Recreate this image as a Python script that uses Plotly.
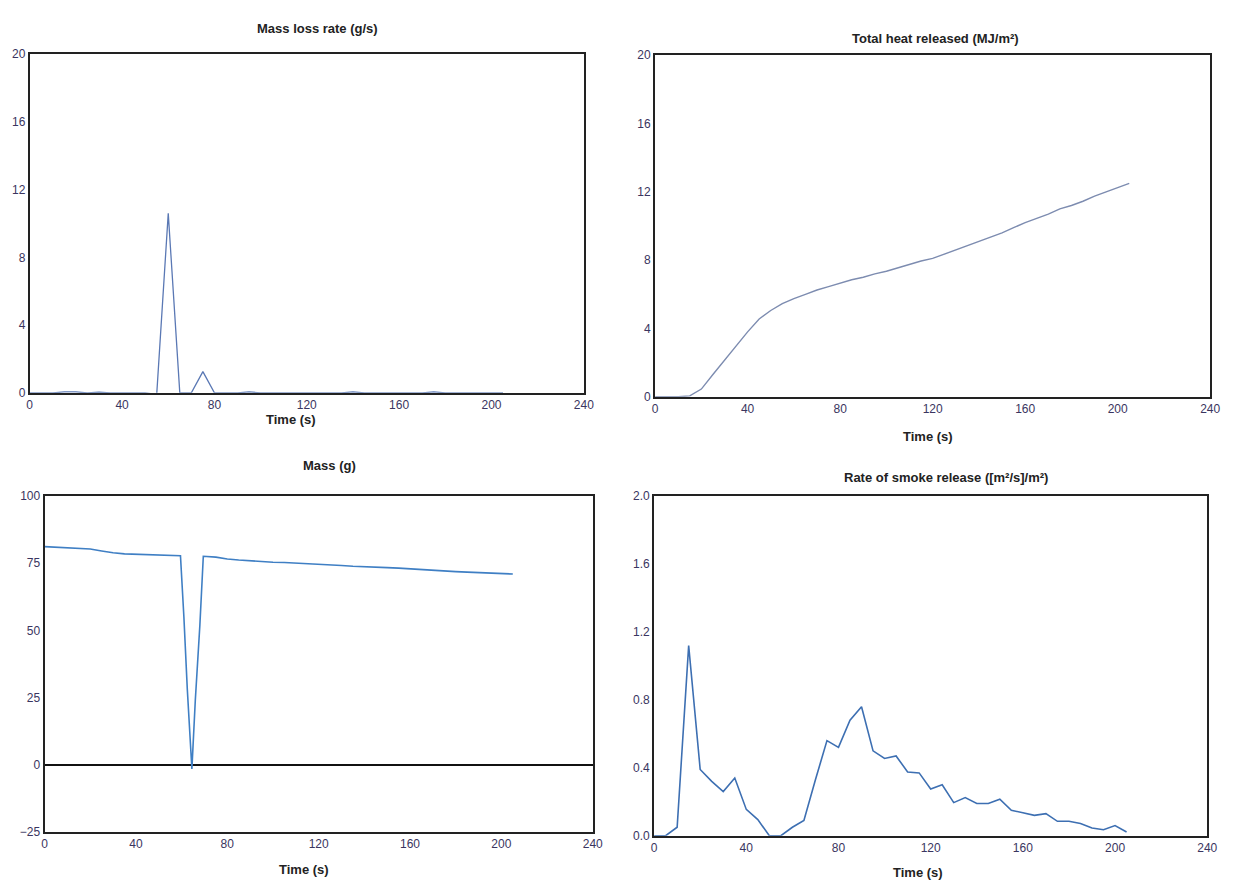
import plotly.graph_objects as go

# ---------------- data ----------------
mlr_time = [0, 5, 10, 15, 20, 25, 30, 35, 40, 45, 50, 55, 60, 65, 70, 75, 80, 85, 90, 95,
            100, 105, 110, 115, 120, 125, 130, 135, 140, 145, 150, 155, 160, 165, 170, 175,
            180, 185, 190, 195, 200, 205]
mlr_vals = [0, 0, 0, 0.05, 0.05, 0, 0.04, 0, 0, 0, 0, -0.1, 10.6, 0, 0, 1.25, 0, 0, 0, 0.05,
            0, 0, 0, 0, 0, 0, 0, 0, 0.05, 0, 0, 0, 0, 0, 0, 0.05,
            0, 0, 0, 0, 0, 0]

thr_time = [0, 5, 10, 15, 20, 25, 30, 35, 40, 45, 50, 55, 60, 65, 70, 75, 80, 85, 90, 95,
            100, 105, 110, 115, 120, 125, 130, 135, 140, 145, 150, 155, 160, 165, 170, 175,
            180, 185, 190, 195, 200, 205]
thr_vals = [0, 0, 0, 0.05, 0.45, 1.3, 2.15, 3.0, 3.8, 4.55, 5.05, 5.45, 5.75, 6.0, 6.25, 6.45,
            6.65, 6.85, 7.0, 7.2, 7.35, 7.55, 7.75, 7.95, 8.1, 8.35, 8.6, 8.85, 9.1, 9.35,
            9.6, 9.9, 10.2, 10.45, 10.7, 11.0, 11.2, 11.45, 11.75, 12.0, 12.25, 12.5]

mass_time = [0, 5, 10, 15, 20, 25, 30, 35, 40, 45, 50, 55, 59.5, 61, 62.5, 64.5, 66, 68, 69.5,
             75, 80, 85, 90, 95, 100, 105, 110, 115, 120, 125, 130, 135, 140, 145, 150, 155,
             160, 165, 170, 175, 180, 185, 190, 195, 200, 205]
mass_vals = [81.2, 81.0, 80.9, 80.6, 80.3, 79.6, 78.9, 78.5, 78.3, 78.2, 78.1, 77.9, 77.8,
             55, 28, -1.6, 24, 52, 77.6,
             77.3, 76.6, 76.2, 75.9, 75.6, 75.4, 75.3, 75.1, 74.9, 74.8, 74.6, 74.2, 73.9,
             73.8, 73.6, 73.4, 73.2, 72.9, 72.6, 72.4, 72.2, 71.9, 71.7, 71.5, 71.3, 71.2, 71.0]

rsr_time = [0, 5, 10, 15, 20, 25, 30, 35, 40, 45, 50, 55, 60, 65, 70, 75, 80, 85, 90, 95,
            100, 105, 110, 115, 120, 125, 130, 135, 140, 145, 150, 155, 160, 165, 170, 175,
            180, 185, 190, 195, 200, 205]
rsr_vals = [0, 0, 0.05, 1.12, 0.39, 0.32, 0.26, 0.34, 0.155, 0.095, 0.0, 0.0, 0.05, 0.09,
            0.33, 0.56, 0.52, 0.68, 0.76, 0.5, 0.455, 0.47, 0.375, 0.37, 0.275, 0.30, 0.195,
            0.225, 0.19, 0.19, 0.215, 0.15, 0.135, 0.12, 0.13, 0.085, 0.085, 0.072, 0.045,
            0.035, 0.06, 0.022]

titles = ["Mass loss rate (g/s)", "Total heat released (MJ/m²)", "Mass (g)",
          "Rate of smoke release ([m²/s]/m²)"]
x_ticks = [0, 40, 80, 120, 160, 200, 240]
y_ticks_mlr = [0, 4, 8, 12, 16, 20]
y_ticks_thr = [0, 4, 8, 12, 16, 20]
y_ticks_mass = [-25, 0, 25, 50, 75, 100]
y_ticks_rsr = [0.0, 0.4, 0.8, 1.2, 1.6, 2.0]
y_tick_text_rsr = ["0.0", "0.4", "0.8", "1.2", "1.6", "2.0"]

# ---------------- layout geometry (page pixels) ----------------
W, H = 1240, 888
panels = [
    dict(l=27, r=587, t=48, b=392, title_xy=(318, 22), xt_xy=(291, 419)),
    dict(l=659, r=1220, t=49, b=396, title_xy=(942, 32), xt_xy=(935, 436)),
    dict(l=42, r=596, t=497, b=838, title_xy=(330, 466), xt_xy=(304, 876)),
    dict(l=658, r=1217, t=497, b=842, title_xy=(953, 478), xt_xy=(925, 879)),
]


def fx(px):
    return px / W


def fy(py):
    return 1 - py / H


fig = go.Figure()
series = [
    (mlr_time, mlr_vals, "#5a78b4", 1.3),
    (thr_time, thr_vals, "#7d8cb0", 1.4),
    (mass_time, mass_vals, "#3f7fc4", 1.6),
    (rsr_time, rsr_vals, "#3d6fb2", 1.6),
]
for i, (xs, ys, col, w) in enumerate(series):
    n = "" if i == 0 else str(i + 1)
    fig.add_trace(go.Scatter(x=xs, y=ys, mode="lines", line=dict(color=col, width=w),
                             xaxis="x" + n, yaxis="y" + n, showlegend=False))

tick_font = dict(family="Liberation Sans, Arial, sans-serif", size=12, color="#3a3560")
yranges = [[0, 20], [0, 20], [-25, 100], [0, 2.0]]
yticks = [y_ticks_mlr, y_ticks_thr, y_ticks_mass, y_ticks_rsr]
ytext = [None, None, None, y_tick_text_rsr]

layout = dict(width=W, height=H, margin=dict(l=0, r=0, t=0, b=0),
              paper_bgcolor="white", plot_bgcolor="white", showlegend=False)
annotations = []
for i, p in enumerate(panels):
    n = "" if i == 0 else str(i + 1)
    layout["xaxis" + n] = dict(
        domain=[fx(p["l"]), fx(p["r"])], anchor="y" + n, range=[0, 240],
        tickvals=x_ticks, showgrid=False, zeroline=False, ticks="",
        showline=True, linecolor="#222222", linewidth=2, mirror=True,
        tickfont=tick_font, fixedrange=True, ticklabelstandoff=0)
    yax = dict(
        domain=[fy(p["b"]), fy(p["t"])], anchor="x" + n, range=yranges[i],
        tickvals=yticks[i], showgrid=False, ticks="",
        showline=True, linecolor="#222222", linewidth=2, mirror=True,
        tickfont=tick_font, fixedrange=True, ticklabelstandoff=0)
    if ytext[i] is not None:
        yax["ticktext"] = ytext[i]
    if i == 2:
        yax.update(zeroline=True, zerolinecolor="#111111", zerolinewidth=2)
    else:
        yax["zeroline"] = False
    layout["yaxis" + n] = yax
    tx, ty = p["title_xy"]
    annotations.append(dict(text="<b>" + titles[i] + "</b>", x=fx(tx), y=fy(ty),
                            xref="paper", yref="paper", showarrow=False,
                            xanchor="center", yanchor="middle",
                            font=dict(family="Liberation Sans, Arial, sans-serif",
                                      size=13, color="#222222")))
    ax, ay = p["xt_xy"]
    annotations.append(dict(text="<b>Time (s)</b>", x=fx(ax), y=fy(ay),
                            xref="paper", yref="paper", showarrow=False,
                            xanchor="center", yanchor="middle",
                            font=dict(family="Liberation Sans, Arial, sans-serif",
                                      size=13, color="#222222")))
layout["annotations"] = annotations
fig.update_layout(**layout)
fig.write_html("out.html",
               config={"displayModeBar": False, "staticPlot": True},
               post_script="document.body.style.margin='0';"
                           "document.body.style.overflow='hidden';")
